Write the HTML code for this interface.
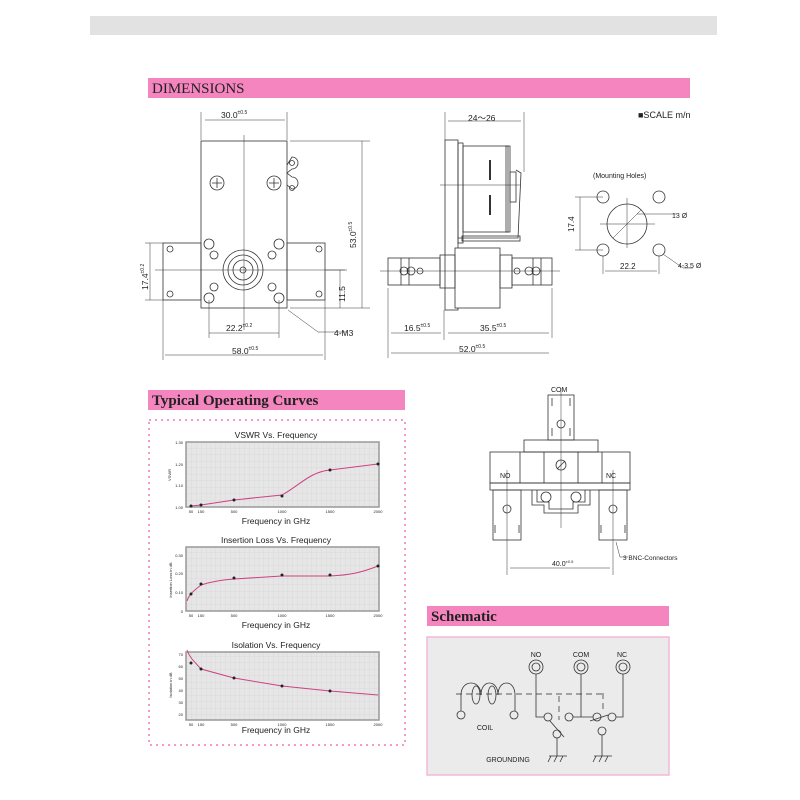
<!DOCTYPE html>
<html><head><meta charset="utf-8"><style>
html,body{margin:0;padding:0;background:#fff;width:800px;height:800px;overflow:hidden}
svg{display:block}
text{font-family:"Liberation Sans",sans-serif;fill:#222}
.h{font-family:"Liberation Serif",serif;font-size:15px;fill:#222}
</style></head><body>
<svg width="800" height="800" viewBox="0 0 800 800" xmlns="http://www.w3.org/2000/svg">
<rect x="90" y="16" width="627" height="19" fill="#e2e2e2"/>
<!-- headers -->
<rect x="148" y="78" width="542" height="20" fill="#f585bf"/>
<text x="152" y="93" class="h">DIMENSIONS</text>
<rect x="148" y="390" width="257" height="20" fill="#f585bf"/>
<text x="152" y="405" class="h" style="font-weight:bold">Typical Operating Curves</text>
<rect x="427" y="606" width="242" height="20" fill="#f585bf"/>
<text x="431" y="621" class="h" style="font-weight:bold">Schematic</text>
<text x="638" y="118" font-size="9">■SCALE m/n</text>

<g fill="none" stroke="#333" stroke-width="0.8">
<!-- FRONT VIEW -->
<rect x="201" y="141" width="86" height="167" fill="#fff"/>
<rect x="163" y="243" width="38" height="57"/>
<rect x="287" y="243" width="38" height="57"/>
<line x1="244" y1="135" x2="244" y2="330" stroke-width="0.5"/>
<line x1="155" y1="270" x2="345" y2="270" stroke-width="0.5"/>
<circle cx="243" cy="270" r="20"/><circle cx="243" cy="270" r="15"/><circle cx="243" cy="270" r="10"/><circle cx="243" cy="270" r="3"/>
<circle cx="217" cy="183" r="7"/><path d="M212 183h10M217 178v10"/>
<circle cx="274" cy="183" r="7"/><path d="M269 183h10M274 178v10"/>
<path d="M287 165 l5 -8 a6 6 0 1 1 0 12 l-5 4 l5 4 a6 6 0 1 1 0 12 l-5 -4"/>
<circle cx="292" cy="163" r="2.5"/><circle cx="292" cy="188" r="2.5"/>
<circle cx="209" cy="244" r="5"/><circle cx="279" cy="244" r="5"/><circle cx="209" cy="298" r="5"/><circle cx="279" cy="298" r="5"/>
<circle cx="214" cy="255" r="4"/><circle cx="272" cy="255" r="4"/><circle cx="214" cy="287" r="4"/><circle cx="272" cy="287" r="4"/>
<circle cx="170" cy="249" r="3"/><circle cx="170" cy="294" r="3"/><circle cx="319" cy="249" r="3"/><circle cx="319" cy="294" r="3"/>
<g stroke-width="0.5">
<path d="M201 112v28M287 112v28M205 120h80"/>
<path d="M290 141h80M290 308h80M362 141v167"/>
<path d="M145 243h18M145 300h18M150 243v57"/>
<path d="M325 270h22M340 270v38"/>
<path d="M209 300v38M279 300v38M209 333h70"/>
<path d="M163 300v60M325 300v60M165 355h158"/>
<path d="M288 310l30 22h28"/>
</g>
<!-- SIDE VIEW -->
<rect x="445" y="140" width="13" height="170" fill="#fff"/>
<rect x="458" y="143" width="5" height="100"/>
<rect x="463" y="146" width="45" height="86"/>
<rect x="506" y="146" width="4" height="86"/>
<path d="M490 160v20M490 195v20" stroke-width="2"/>
<rect x="510" y="172" width="6" height="30"/>
<path d="M516 170l5 3 -3 65 -60 0"/>
<rect x="462" y="236" width="58" height="5"/>
<rect x="455" y="248" width="45" height="60" fill="#fff"/>
<rect x="440" y="255" width="15" height="33"/><rect x="500" y="255" width="12" height="33"/>
<rect x="388" y="258" width="52" height="27"/><rect x="512" y="258" width="40" height="27"/>
<path d="M401 258v27M409 258v27M533 258v27M541 258v27"/>
<circle cx="404" cy="271" r="4"/><circle cx="411" cy="271" r="4"/><circle cx="420" cy="271" r="3"/>
<circle cx="536" cy="271" r="4"/><circle cx="529" cy="271" r="4"/><circle cx="517" cy="271" r="3"/>
<g stroke-width="0.5">
<path d="M445 112v28M524 112v60M448 121h73"/>
<path d="M380 271h180M440 185h80"/>
<path d="M388 288v70M444 310v30M552 288v50M391 333h50M448 333h101M391 353h158"/>
</g>
<!-- MOUNTING HOLES -->
<circle cx="603" cy="197" r="6"/><circle cx="659" cy="197" r="6"/><circle cx="603" cy="250" r="6"/><circle cx="659" cy="250" r="6"/>
<circle cx="627" cy="224" r="20"/>
<g stroke-width="0.5">
<path d="M600 224h55M627 198v50M613 238l28 -28M637 214l40 0"/>
<path d="M575 197h28M575 250h28M580 197v53M603 256v18M659 256v18M605 271h52"/>
<path d="M663 254l20 14h10"/>
</g>
<!-- BOTTOM VIEW -->
<rect x="548" y="395" width="26" height="45"/>
<path d="M552 398v8M570 398v8M552 428v8M570 428v8"/>
<circle cx="561" cy="424" r="4"/>
<rect x="524" y="440" width="74" height="12"/>
<rect x="490" y="452" width="140" height="31"/>
<path d="M520 452v31M544 452v31M578 452v31M602 452v31"/>
<circle cx="561" cy="465" r="5"/><path d="M557 469l8 -8"/>
<rect x="490" y="483" width="140" height="7"/>
<rect x="493" y="490" width="28" height="50"/><rect x="599" y="490" width="28" height="50"/>
<circle cx="507" cy="509" r="4"/><circle cx="613" cy="509" r="4"/>
<path d="M495 525v8M519 525v8M601 525v8M625 525v8"/>
<path d="M532 490v15h12v8h34v-8h12v-15M537 490v12h12v7h24v-7h12v-12"/>
<circle cx="546" cy="497" r="5"/><circle cx="576" cy="497" r="5"/>
<g stroke-width="0.5">
<path d="M561 388v140M507 470v105M613 470v105M510 568h100M616 542l4 15h8"/>
</g>
</g>
<g font-size="8.5">
<text x="221" y="118">30.0<tspan font-size="5" dy="-4">±0.5</tspan></text>
<text x="356" y="248" transform="rotate(-90 356 248)">53.0<tspan font-size="5" dy="-4">±0.5</tspan></text>
<text x="148" y="290" transform="rotate(-90 148 290)">17.4<tspan font-size="5" dy="-4">±0.2</tspan></text>
<text x="345" y="302" transform="rotate(-90 345 302)">11.5</text>
<text x="226" y="331">22.2<tspan font-size="5" dy="-4">±0.2</tspan></text>
<text x="232" y="354">58.0<tspan font-size="5" dy="-4">±0.5</tspan></text>
<text x="334" y="336">4-M3</text>
<text x="468" y="121">24～26</text>
<text x="404" y="331">16.5<tspan font-size="5" dy="-4">±0.5</tspan></text>
<text x="480" y="331">35.5<tspan font-size="5" dy="-4">±0.5</tspan></text>
<text x="459" y="352">52.0<tspan font-size="5" dy="-4">±0.5</tspan></text>
<text x="593" y="178" font-size="7">(Mounting  Holes)</text>
<text x="672" y="218" font-size="7">13 Ø</text>
<text x="574" y="232" font-size="8" transform="rotate(-90 574 232)">17.4</text>
<text x="620" y="269" font-size="8">22.2</text>
<text x="678" y="268" font-size="7">4-3.5 Ø</text>
<text x="551" y="392" font-size="7">COM</text>
<text x="500" y="478" font-size="7">NO</text>
<text x="606" y="478" font-size="7">NC</text>
<text x="552" y="566" font-size="7">40.0<tspan font-size="4" dy="-3">±0.5</tspan></text>
<text x="623" y="560" font-size="6.5">3 BNC-Connectors</text>
</g>

<!-- CURVES BOX -->
<rect x="149" y="420" width="256" height="325" fill="none" stroke="#f07ab5" stroke-width="1.5" stroke-dasharray="2,4"/>
<defs>
<pattern id="g" width="4.8" height="6.5" patternUnits="userSpaceOnUse"><path d="M4.8 0V6.5M0 6.5H4.8" stroke="#d0d0d0" stroke-width="0.5" fill="none"/></pattern>
</defs>
<g font-size="8.5" text-anchor="middle">
<text x="276" y="438">VSWR Vs. Frequency</text>
<text x="276" y="524">Frequency in GHz</text>
<text x="276" y="543">Insertion Loss Vs. Frequency</text>
<text x="276" y="628">Frequency in GHz</text>
<text x="276" y="648">Isolation Vs. Frequency</text>
<text x="276" y="733">Frequency in GHz</text>
</g>
<g>
<rect x="186" y="442" width="193" height="65" fill="#e6e6e6"/><rect x="186" y="442" width="193" height="65" fill="url(#g)" stroke="#999" stroke-width="1.5"/>
<rect x="186" y="547" width="193" height="64" fill="#e6e6e6"/><rect x="186" y="547" width="193" height="64" fill="url(#g)" stroke="#999" stroke-width="1.5"/>
<rect x="186" y="652" width="193" height="68" fill="#e6e6e6"/><rect x="186" y="652" width="193" height="68" fill="url(#g)" stroke="#999" stroke-width="1.5"/>
</g>
<g fill="none" stroke="#d04080" stroke-width="1">
<path d="M191 506 L201 505 L234 500 L282 495 C300 485 310 472 330 470 L378 464"/>
<path d="M187 601 C189 595 192 592 201 585 C210 582 220 580 234 579 L282 576 L330 576 C350 575 360 573 378 566"/>
<path d="M187 650 C190 658 193 660 201 669 L234 678 L282 686 L330 691 L378 695"/>
</g>
<g fill="#222">
<circle cx="191" cy="506" r="1.5"/><circle cx="201" cy="505" r="1.5"/><circle cx="234" cy="500" r="1.5"/><circle cx="282" cy="496" r="1.5"/><circle cx="330" cy="470" r="1.5"/><circle cx="378" cy="464" r="1.5"/>
<circle cx="191" cy="594" r="1.5"/><circle cx="201" cy="584" r="1.5"/><circle cx="234" cy="578" r="1.5"/><circle cx="282" cy="575" r="1.5"/><circle cx="330" cy="575" r="1.5"/><circle cx="378" cy="566" r="1.5"/>
<circle cx="191" cy="663" r="1.5"/><circle cx="201" cy="669" r="1.5"/><circle cx="234" cy="678" r="1.5"/><circle cx="282" cy="686" r="1.5"/><circle cx="330" cy="691" r="1.5"/>
</g>
<g font-size="4" fill="#444" text-anchor="end">
<text x="183" y="444">1.30</text><text x="183" y="466">1.20</text><text x="183" y="487">1.10</text><text x="183" y="509">1.00</text>
<text x="183" y="557">0.30</text><text x="183" y="575">0.20</text><text x="183" y="594">0.10</text><text x="183" y="613">0</text>
<text x="183" y="656">70</text><text x="183" y="668">60</text><text x="183" y="680">50</text><text x="183" y="692">40</text><text x="183" y="704">30</text><text x="183" y="716">20</text>
</g>
<g font-size="4" fill="#444" text-anchor="middle">
<text x="191" y="513">50</text><text x="201" y="513">150</text><text x="234" y="513">500</text><text x="282" y="513">1000</text><text x="330" y="513">1500</text><text x="378" y="513">2000</text>
<text x="191" y="617">50</text><text x="201" y="617">150</text><text x="234" y="617">500</text><text x="282" y="617">1000</text><text x="330" y="617">1500</text><text x="378" y="617">2000</text>
<text x="191" y="726">50</text><text x="201" y="726">150</text><text x="234" y="726">500</text><text x="282" y="726">1000</text><text x="330" y="726">1500</text><text x="378" y="726">2000</text>
<text x="171" y="475" transform="rotate(-90 171 475)">VSWR</text>
<text x="172" y="580" transform="rotate(-90 172 580)">Insertion Loss in dB</text>
<text x="172" y="685" transform="rotate(-90 172 685)">Isolation in dB</text>
</g>

<!-- SCHEMATIC -->
<rect x="427" y="637" width="242" height="138" fill="#ebebeb" stroke="#f5b8d8" stroke-width="1.5"/>
<g font-size="7" text-anchor="middle">
<text x="536" y="657">NO</text><text x="581" y="657">COM</text><text x="622" y="657">NC</text>
<text x="485" y="730">COIL</text><text x="508" y="762">GROUNDING</text>
</g>
<g fill="none" stroke="#333" stroke-width="0.8">
<circle cx="536" cy="667" r="7"/><circle cx="536" cy="667" r="4"/>
<circle cx="581" cy="667" r="7"/><circle cx="581" cy="667" r="4"/>
<circle cx="623" cy="667" r="7"/><circle cx="623" cy="667" r="4"/>
<path d="M456 694H606 M559 696v24 M603 693v20" stroke="#777" stroke-dasharray="6,4" stroke-width="1.2"/>
<path d="M461 711v-16c0-16 20-16 20 0c0-16 17-16 17 0c0-16 17-16 17 0v16"/>
<ellipse cx="476" cy="695" rx="4" ry="9"/><ellipse cx="492" cy="695" rx="4" ry="9"/>
<circle cx="461" cy="715" r="4"/><circle cx="514" cy="715" r="4"/>
<path d="M536 674v43h8"/><circle cx="548" cy="717" r="4"/>
<path d="M550 721l14 16"/><circle cx="557" cy="734" r="4"/>
<path d="M557 738v18M549 756h18M551 756l-3 6M557 756l-3 6M563 756l-3 6"/>
<circle cx="569" cy="717" r="4"/>
<path d="M573 717h20M581 674v43"/>
<circle cx="597" cy="717" r="4"/><path d="M590 721l18 -6"/>
<circle cx="612" cy="717" r="4"/><path d="M616 717h7v-43"/>
<circle cx="602" cy="731" r="4"/>
<path d="M602 735v21M594 756h18M596 756l-3 6M602 756l-3 6M608 756l-3 6"/>
</g>
</svg>
</body></html>
